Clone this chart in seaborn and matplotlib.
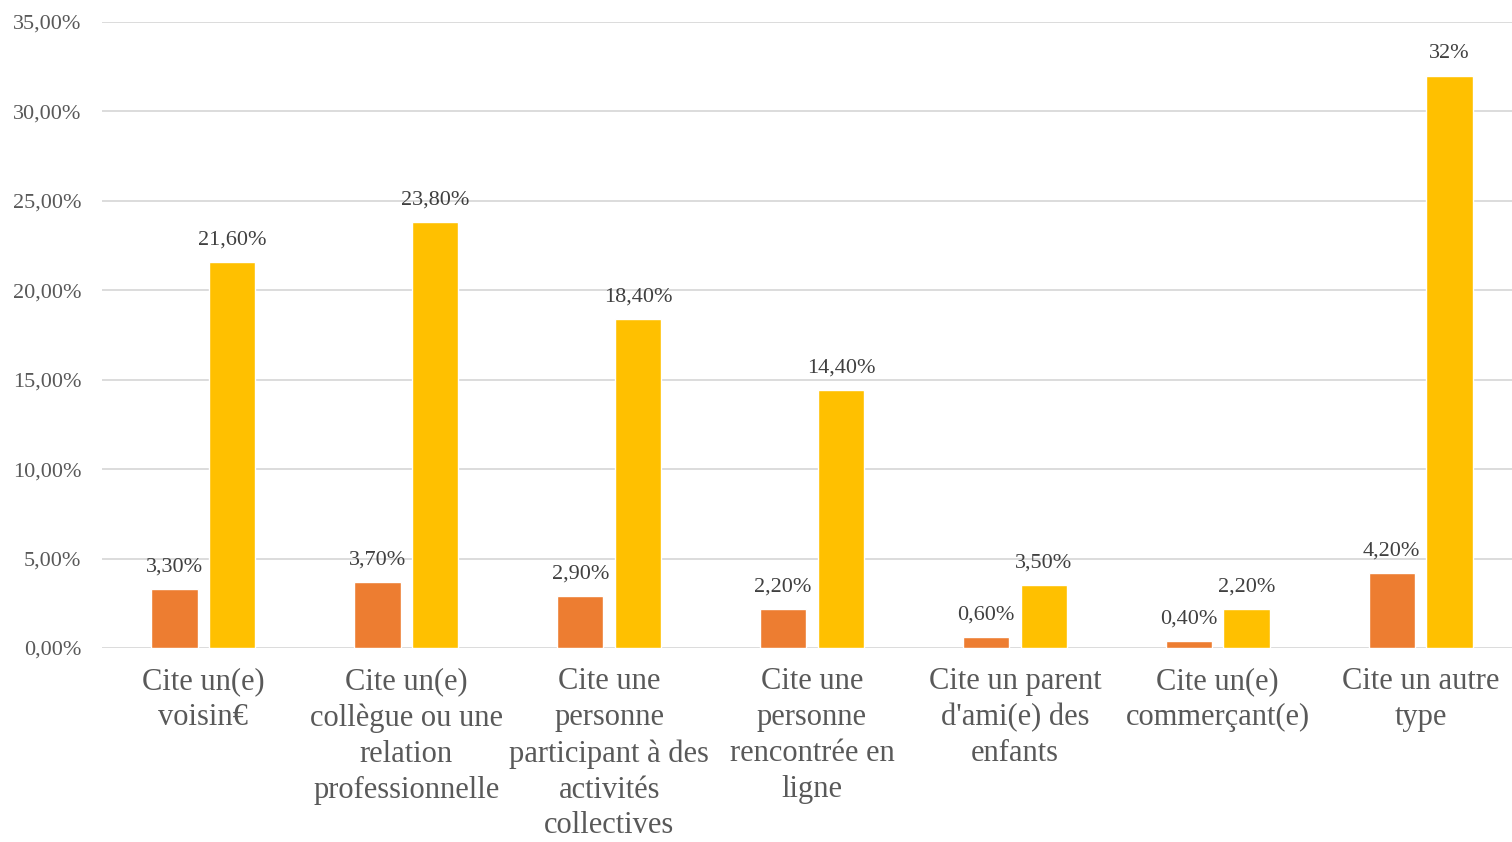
import pandas as pd
import matplotlib
matplotlib.use('Agg')
import matplotlib.pyplot as plt
import seaborn as sns

# Data
categories = [
    "Cite un(e)\nvoisin€",
    "Cite un(e)\ncollègue ou une\nrelation\nprofessionnelle",
    "Cite une\npersonne\nparticipant à des\nactivités\ncollectives",
    "Cite une\npersonne\nrencontrée en\nligne",
    "Cite un parent\nd'ami(e) des\nenfants",
    "Cite un(e)\ncommerçant(e)",
    "Cite un autre\ntype",
]
series_names = ["Série 1", "Série 2"]
values_s1 = [3.3, 3.7, 2.9, 2.2, 0.6, 0.4, 4.2]
values_s2 = [21.6, 23.8, 18.4, 14.4, 3.5, 2.2, 32.0]
labels_s1 = ["3,30%", "3,70%", "2,90%", "2,20%", "0,60%", "0,40%", "4,20%"]
labels_s2 = ["21,60%", "23,80%", "18,40%", "14,40%", "3,50%", "2,20%", "32%"]
y_ticks = [0, 5, 10, 15, 20, 25, 30, 35]
y_tick_labels = ["0,00%", "5,00%", "10,00%", "15,00%", "20,00%", "25,00%", "30,00%", "35,00%"]

df = pd.DataFrame({
    "categorie": categories * 2,
    "serie": [series_names[0]] * len(categories) + [series_names[1]] * len(categories),
    "valeur": values_s1 + values_s2,
})

sns.set_theme(style="white")
plt.rcParams['font.family'] = ['Liberation Serif', 'DejaVu Serif']

fig = plt.figure(figsize=(15.12, 8.42), dpi=100)
ax = fig.add_axes([102 / 1512, 1 - 648 / 842, 1420 / 1512, 626 / 842])

sns.barplot(data=df, x="categorie", y="valeur", hue="serie",
            palette=["#ED7D31", "#FFC000"], saturation=1, width=0.57, gap=0.2,
            order=categories, hue_order=series_names, legend=False, ax=ax)

# data labels
for container, labels in zip(ax.containers, [labels_s1, labels_s2]):
    ax.bar_label(container, labels=labels, padding=9, fontsize=16, color="#404040")

ax.set_ylim(0, 35)
ax.set_xlim(-0.5, len(categories) - 0.5)
ax.set_yticks(y_ticks)
ax.set_yticklabels(y_tick_labels, fontsize=16, color="#595959")
ax.set_xticks(range(len(categories)))
ax.set_xticklabels(categories, fontsize=22, color="#595959", linespacing=1.31)
ax.tick_params(axis="x", length=0, pad=14)
ax.tick_params(axis="y", length=0, pad=15)
ax.set_xlabel("")
ax.set_ylabel("")

ax.grid(axis="y", color="#D9D9D9", linewidth=1.3)
ax.set_axisbelow(True)
for side in ["top", "right", "left", "bottom"]:
    ax.spines[side].set_visible(False)

fig.savefig("out.png", dpi=100)
